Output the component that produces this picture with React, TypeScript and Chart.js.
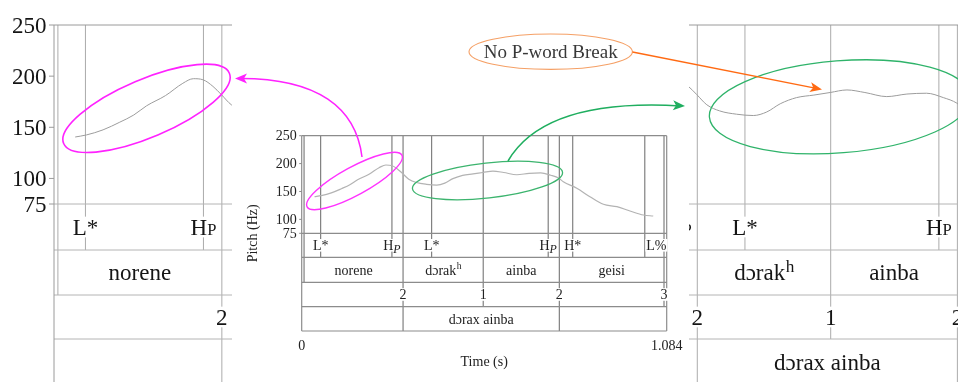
import React, { useEffect, useRef } from 'react';
import { Chart, registerables } from 'chart.js';

Chart.register(...registerables);

const FONT = "'Liberation Serif', 'Times New Roman', serif";
const DURATION = 1.084;

// Pitch track: time (s) and F0 (Hz)
const PITCH_TIMES = [
  0.038, 0.058, 0.088, 0.118, 0.143, 0.166, 0.2, 0.231, 0.25, 0.267,
  0.285, 0.3, 0.318, 0.341, 0.371, 0.401, 0.425, 0.449, 0.478, 0.509,
  0.538, 0.568, 0.6, 0.639, 0.675, 0.71, 0.74, 0.764, 0.777, 0.817,
  0.856, 0.896, 0.936, 0.975, 1.015, 1.044,
];
const PITCH_HZ = [
  140.5, 142.5, 147.5, 155, 162, 171, 181, 193, 197.5, 196.5,
  190, 182, 172, 166, 162.8, 161.5, 165, 173, 179, 181.5,
  184, 186.5, 184, 180, 182.5, 183.3, 179, 173.6, 167.5, 155.7,
  140.6, 127, 122.7, 115, 107.8, 106,
];

const Y_MIN = 75;
const Y_MAX = 250;
const Y_TICKS = [75, 100, 150, 200, 250];
const TIME_TICKS = [0, 1.084];

// TextGrid tiers
const TONE_TIMES = [0.0564, 0.268, 0.386, 0.732, 0.805, 1.019];
const TONE_LABELS = ['L*', 'H_P', 'L*', 'H_P', 'H*', 'L%'];
const WORD_BOUNDS = [0.007, 0.301, 0.539, 0.765, 1.076];
const WORD_LABELS = ['norene', 'dɔrak^h', 'ainba', 'geisi'];
const BREAK_TIMES = [0.301, 0.539, 0.765, 1.076];
const BREAK_LABELS = ['2', '1', '2', '3'];
const PHRASE_BOUNDS = [0, 0.301, 0.765, 1.084];
const PHRASE_LABELS = ['', 'dɔrax ainba', ''];

type Tier = { kind: 'point' | 'interval'; times: number[]; labels: string[] };
const TIERS: Tier[] = [
  { kind: 'point', times: TONE_TIMES, labels: TONE_LABELS },
  { kind: 'interval', times: WORD_BOUNDS, labels: WORD_LABELS },
  { kind: 'point', times: BREAK_TIMES, labels: BREAK_LABELS },
  { kind: 'interval', times: PHRASE_BOUNDS, labels: PHRASE_LABELS },
];

type Ellipse = { t: number; hz: number; rx: number; ry: number; rot: number; color: string; width: number };

type Panel = {
  box: { left: number; top: number; width: number; height: number };
  area: { left: number; top: number; right: number; bottom: number };
  xMin: number;
  xMax: number;
  rows: number[];
  font: number;
  ticks: boolean;
  tickLen: number;
  tickGap: number;
  frameLeft: boolean;
  frameRight: boolean;
  frameBottom: boolean;
  lineColor: string;
  frameColor: string;
  frameWidth: number;
  tierLineColor: string;
  pitchColor: string;
  pitchWidth: number;
  textColor: string;
  subStyle: 'italic' | 'smallcap';
  ellipses: Ellipse[];
  titles: boolean;
  callouts: boolean;
};

const LEFT_PANEL: Panel = {
  box: { left: 0, top: 0, width: 232, height: 382 },
  area: { left: 54, top: 25, right: 232, bottom: 204 },
  xMin: 0,
  xMax: 0.3192,
  rows: [46, 45, 44, 46],
  font: 23,
  ticks: true,
  tickLen: 5,
  tickGap: 2.5,
  frameLeft: true,
  frameRight: false,
  frameBottom: false,
  lineColor: '#ababab',
  frameColor: '#9a9a9a',
  frameWidth: 1,
  tierLineColor: '#b4b4b4',
  pitchColor: '#9c9c9c',
  pitchWidth: 1,
  textColor: '#151515',
  subStyle: 'smallcap',
  ellipses: [{ t: 0.1659, hz: 168.5, rx: 90, ry: 29, rot: -23, color: '#ff22ff', width: 1.6 }],
  titles: false,
  callouts: false,
};

const RIGHT_PANEL: Panel = {
  box: { left: 689, top: 0, width: 269, height: 382 },
  area: { left: 0, top: 25, right: 269, bottom: 204 },
  xMin: 0.2862,
  xMax: 0.7661,
  rows: [46, 45, 44, 46],
  font: 23,
  ticks: false,
  tickLen: 0,
  tickGap: 0,
  frameLeft: false,
  frameRight: false,
  frameBottom: false,
  lineColor: '#ababab',
  frameColor: '#9a9a9a',
  frameWidth: 1,
  tierLineColor: '#b4b4b4',
  pitchColor: '#9c9c9c',
  pitchWidth: 1,
  textColor: '#151515',
  subStyle: 'smallcap',
  ellipses: [{ t: 0.5556, hz: 170, rx: 131, ry: 46, rot: -4.5, color: '#2fb36a', width: 1.3 }],
  titles: false,
  callouts: false,
};

const CENTER_PANEL: Panel = {
  box: { left: 0, top: 0, width: 958, height: 382 },
  area: { left: 301.7, top: 135.7, right: 666.7, bottom: 233.3 },
  xMin: 0,
  xMax: DURATION,
  rows: [24, 25, 24.4, 24.3],
  font: 14,
  ticks: true,
  tickLen: 2.5,
  tickGap: 2.5,
  frameLeft: true,
  frameRight: true,
  frameBottom: true,
  lineColor: '#676767',
  frameColor: '#8c8c8c',
  frameWidth: 1.2,
  tierLineColor: '#8c8c8c',
  pitchColor: '#b3b3b3',
  pitchWidth: 1.2,
  textColor: '#222',
  subStyle: 'italic',
  ellipses: [
    { t: 0.1568, hz: 168.8, rx: 54, ry: 14, rot: -28.6, color: '#ff33ff', width: 1.4 },
    { t: 0.5518, hz: 169.7, rx: 75.5, ry: 17.5, rot: -6.3, color: '#3cb46e', width: 1.3 },
  ],
  titles: true,
  callouts: true,
};

// Callout shapes tying the overview to the two close-ups
const NOTE_TEXT = 'No P-word Break';
const NOTE_BOX = { cx: 550.7, cy: 51.7, rx: 81.7, ry: 17.7 };
const NOTE_ARROW = { from: [632.5, 52], to: [822, 89.5] };
const MAGENTA_ARROW = { from: [362, 157], c1: [356, 108], c2: [318, 78], to: [235, 78.5] };
const GREEN_ARROW = { from: [508, 161], c: [545, 98], to: [685, 106] };

function markDepths() {
  const map = new Map<string, { t: number; d: number }>();
  TIERS.forEach((tier, i) =>
    tier.times.forEach((t) => {
      if (t <= 0 || t >= DURATION) return;
      const k = t.toFixed(3);
      const cur = map.get(k);
      if (!cur || cur.d < i) map.set(k, { t, d: i });
    })
  );
  return [...map.values()];
}

function line(ctx: CanvasRenderingContext2D, x1: number, y1: number, x2: number, y2: number) {
  ctx.beginPath();
  ctx.moveTo(x1, y1);
  ctx.lineTo(x2, y2);
  ctx.stroke();
}

function drawTierText(
  ctx: CanvasRenderingContext2D,
  label: string,
  x: number,
  cy: number,
  size: number,
  p: Panel,
  align: 'center' | 'left'
) {
  if (!label) return;
  let base = label;
  let extra = '';
  let mode = '';
  const iSub = label.indexOf('_');
  const iSup = label.indexOf('^');
  if (iSub >= 0) {
    base = label.slice(0, iSub);
    extra = label.slice(iSub + 1);
    mode = 'sub';
  } else if (iSup >= 0) {
    base = label.slice(0, iSup);
    extra = label.slice(iSup + 1);
    mode = 'sup';
  }
  const baseFont = `${size}px ${FONT}`;
  ctx.font = baseFont;
  const wb = ctx.measureText(base).width;
  let extraFont = baseFont;
  let dy = 0;
  if (mode === 'sub') {
    if (p.subStyle === 'italic') {
      extraFont = `italic ${size * 0.85}px ${FONT}`;
      dy = size * 0.2;
    } else {
      extraFont = `${size * 0.72}px ${FONT}`;
      dy = 0;
    }
  } else if (mode === 'sup') {
    extraFont = `${size * (p.subStyle === 'italic' ? 0.68 : 0.75)}px ${FONT}`;
    dy = -size * 0.38;
  }
  let we = 0;
  if (extra) {
    ctx.font = extraFont;
    we = ctx.measureText(extra).width;
  }
  const total = wb + we;
  const start = align === 'center' ? x - total / 2 : x + 1.5;
  const baseline = cy + size * 0.34;
  ctx.fillStyle = '#fff';
  ctx.fillRect(start - 1, cy - size * 0.45, total + 2, size * 0.9);
  ctx.fillStyle = p.textColor;
  ctx.textAlign = 'left';
  ctx.textBaseline = 'alphabetic';
  ctx.font = baseFont;
  ctx.fillText(base, start, baseline);
  if (extra) {
    ctx.font = extraFont;
    ctx.fillText(extra, start + wb + (mode === 'sup' ? 0.5 : 0), baseline + dy);
  }
}

function arrowHead(
  ctx: CanvasRenderingContext2D,
  tx: number,
  ty: number,
  fx: number,
  fy: number,
  len: number,
  half: number,
  color: string
) {
  const dx = tx - fx;
  const dy = ty - fy;
  const d = Math.hypot(dx, dy);
  const ux = dx / d;
  const uy = dy / d;
  const bx = tx - ux * len;
  const by = ty - uy * len;
  ctx.beginPath();
  ctx.moveTo(tx, ty);
  ctx.lineTo(bx - uy * half, by + ux * half);
  ctx.lineTo(tx - ux * len * 0.75, ty - uy * len * 0.75);
  ctx.lineTo(bx + uy * half, by - ux * half);
  ctx.closePath();
  ctx.fillStyle = color;
  ctx.fill();
}

function drawCallouts(ctx: CanvasRenderingContext2D) {
  ctx.save();
  // note label
  ctx.beginPath();
  ctx.ellipse(NOTE_BOX.cx, NOTE_BOX.cy, NOTE_BOX.rx, NOTE_BOX.ry, 0, 0, Math.PI * 2);
  ctx.strokeStyle = '#f5a066';
  ctx.lineWidth = 1.1;
  ctx.stroke();
  ctx.fillStyle = '#383838';
  ctx.font = `19px ${FONT}`;
  ctx.textAlign = 'center';
  ctx.textBaseline = 'alphabetic';
  ctx.fillText(NOTE_TEXT, NOTE_BOX.cx, NOTE_BOX.cy + 6.5);

  // note arrow
  const [ax, ay] = NOTE_ARROW.from;
  const [bx, by] = NOTE_ARROW.to;
  ctx.strokeStyle = '#ff6a13';
  ctx.lineWidth = 1.4;
  line(ctx, ax, ay, bx - (bx - ax) * 0.03, by - (by - ay) * 0.03);
  arrowHead(ctx, bx, by, ax, ay, 12, 5, '#ff6a13');

  // magenta curve to the left close-up
  const m = MAGENTA_ARROW;
  ctx.strokeStyle = '#ff22ff';
  ctx.lineWidth = 1.5;
  ctx.beginPath();
  ctx.moveTo(m.from[0], m.from[1]);
  ctx.bezierCurveTo(m.c1[0], m.c1[1], m.c2[0], m.c2[1], m.to[0] + 4, m.to[1]);
  ctx.stroke();
  arrowHead(ctx, m.to[0], m.to[1], m.c2[0], m.c2[1], 12, 5, '#ff22ff');

  // green curve to the right close-up
  const g = GREEN_ARROW;
  ctx.strokeStyle = '#1fae5f';
  ctx.lineWidth = 1.5;
  ctx.beginPath();
  ctx.moveTo(g.from[0], g.from[1]);
  ctx.quadraticCurveTo(g.c[0], g.c[1], g.to[0] - 4, g.to[1]);
  ctx.stroke();
  arrowHead(ctx, g.to[0], g.to[1], g.c[0], g.c[1], 12, 5, '#1fae5f');
  ctx.restore();
}

function makePraatPlugin(p: Panel) {
  const edges = (bottom: number) => {
    const e = [bottom];
    p.rows.forEach((h) => e.push(e[e.length - 1] + h));
    return e;
  };
  return {
    id: 'praatFrame',
    beforeDatasetsDraw(chart: any) {
      const ctx: CanvasRenderingContext2D = chart.ctx;
      const a = chart.chartArea;
      const xs = chart.scales.x;
      const rowEdges = edges(a.bottom);
      const fullBottom = p.frameBottom ? rowEdges[rowEdges.length - 1] : chart.height;
      ctx.save();
      // tier boundaries and points
      ctx.strokeStyle = p.lineColor;
      ctx.lineWidth = 1;
      for (const mk of markDepths()) {
        const x = xs.getPixelForValue(mk.t);
        if (x < a.left - 0.5 || x > a.right + 0.5) continue;
        line(ctx, x, a.top, x, rowEdges[mk.d + 1]);
      }
      // horizontal tier separators
      ctx.strokeStyle = p.tierLineColor;
      ctx.lineWidth = p.frameWidth;
      for (let i = 0; i < rowEdges.length - 1; i++) line(ctx, a.left, rowEdges[i], a.right, rowEdges[i]);
      // frame
      ctx.strokeStyle = p.frameColor;
      line(ctx, a.left, a.top, a.right, a.top);
      if (p.frameLeft) line(ctx, a.left, a.top, a.left, fullBottom);
      if (p.frameRight) line(ctx, a.right, a.top, a.right, fullBottom);
      if (p.frameBottom) line(ctx, a.left, fullBottom, a.right, fullBottom);
      ctx.restore();
    },
    afterDatasetsDraw(chart: any) {
      const ctx: CanvasRenderingContext2D = chart.ctx;
      const a = chart.chartArea;
      const xs = chart.scales.x;
      const ys = chart.scales.y;
      const rowEdges = edges(a.bottom);
      ctx.save();
      // tier labels
      TIERS.forEach((tier, i) => {
        const cy = (rowEdges[i] + rowEdges[i + 1]) / 2;
        if (tier.kind === 'point') {
          tier.times.forEach((t, j) => {
            const x = xs.getPixelForValue(t);
            const lab = tier.labels[j];
            drawTierText(ctx, lab, x, cy, p.font, p, lab.endsWith('%') ? 'left' : 'center');
          });
        } else {
          for (let j = 0; j < tier.times.length - 1; j++) {
            const x = xs.getPixelForValue((tier.times[j] + tier.times[j + 1]) / 2);
            drawTierText(ctx, tier.labels[j], x, cy, p.font, p, 'center');
          }
        }
      });
      // pitch axis
      if (p.ticks) {
        ctx.strokeStyle = p.frameColor;
        ctx.lineWidth = 1;
        ctx.fillStyle = p.textColor;
        ctx.font = `${p.font}px ${FONT}`;
        ctx.textAlign = 'right';
        ctx.textBaseline = 'alphabetic';
        for (const v of Y_TICKS) {
          const y = ys.getPixelForValue(v);
          line(ctx, a.left - p.tickLen, y, a.left, y);
          ctx.fillText(String(v), a.left - p.tickLen - p.tickGap, y + p.font * 0.34);
        }
      }
      if (p.titles) {
        const bottom = rowEdges[rowEdges.length - 1];
        ctx.fillStyle = p.textColor;
        ctx.font = `${p.font}px ${FONT}`;
        ctx.textAlign = 'center';
        ctx.textBaseline = 'alphabetic';
        for (const t of TIME_TICKS) {
          ctx.fillText(String(t), xs.getPixelForValue(t), bottom + 18.5);
        }
        ctx.fillText('Time (s)', (a.left + a.right) / 2, bottom + 34.5);
        ctx.save();
        ctx.translate(a.left - 44.5, (a.top + bottom) / 2);
        ctx.rotate(-Math.PI / 2);
        ctx.fillText('Pitch (Hz)', 0, 0);
        ctx.restore();
      }
      ctx.restore();
    },
    afterDraw(chart: any) {
      const ctx: CanvasRenderingContext2D = chart.ctx;
      const xs = chart.scales.x;
      const ys = chart.scales.y;
      ctx.save();
      for (const e of p.ellipses) {
        ctx.beginPath();
        ctx.ellipse(xs.getPixelForValue(e.t), ys.getPixelForValue(e.hz), e.rx, e.ry, (e.rot * Math.PI) / 180, 0, Math.PI * 2);
        ctx.strokeStyle = e.color;
        ctx.lineWidth = e.width;
        ctx.stroke();
      }
      ctx.restore();
      if (p.callouts) drawCallouts(ctx);
    },
  };
}

function PraatPanel({ panel }: { panel: Panel }) {
  const ref = useRef<HTMLCanvasElement>(null);
  useEffect(() => {
    const canvas = ref.current;
    if (!canvas) return;
    const chart = new Chart(canvas, {
      type: 'line',
      data: {
        datasets: [
          {
            data: PITCH_TIMES.map((t, i) => ({ x: t, y: PITCH_HZ[i] })),
            borderColor: panel.pitchColor,
            borderWidth: panel.pitchWidth,
            pointRadius: 0,
            cubicInterpolationMode: 'monotone',
            fill: false,
          },
        ],
      },
      options: {
        responsive: false,
        animation: false,
        devicePixelRatio: 1,
        events: [],
        layout: {
          padding: {
            left: panel.area.left,
            top: panel.area.top,
            right: panel.box.width - panel.area.right,
            bottom: panel.box.height - panel.area.bottom,
          },
        },
        scales: {
          x: { type: 'linear', min: panel.xMin, max: panel.xMax, display: false },
          y: { type: 'linear', min: Y_MIN, max: Y_MAX, display: false },
        },
        plugins: { legend: { display: false }, tooltip: { enabled: false } },
      },
      plugins: [makePraatPlugin(panel)],
    } as any);
    return () => chart.destroy();
  }, [panel]);
  return (
    <canvas
      ref={ref}
      width={panel.box.width}
      height={panel.box.height}
      style={{
        position: 'absolute',
        left: panel.box.left,
        top: panel.box.top,
        width: panel.box.width,
        height: panel.box.height,
        pointerEvents: 'none',
      }}
    />
  );
}

export default function App() {
  return (
    <div
      style={{
        position: 'fixed',
        left: 0,
        top: 0,
        width: 958,
        height: 382,
        background: '#fff',
        overflow: 'hidden',
      }}
    >
      <PraatPanel panel={LEFT_PANEL} />
      <PraatPanel panel={RIGHT_PANEL} />
      <PraatPanel panel={CENTER_PANEL} />
    </div>
  );
}
